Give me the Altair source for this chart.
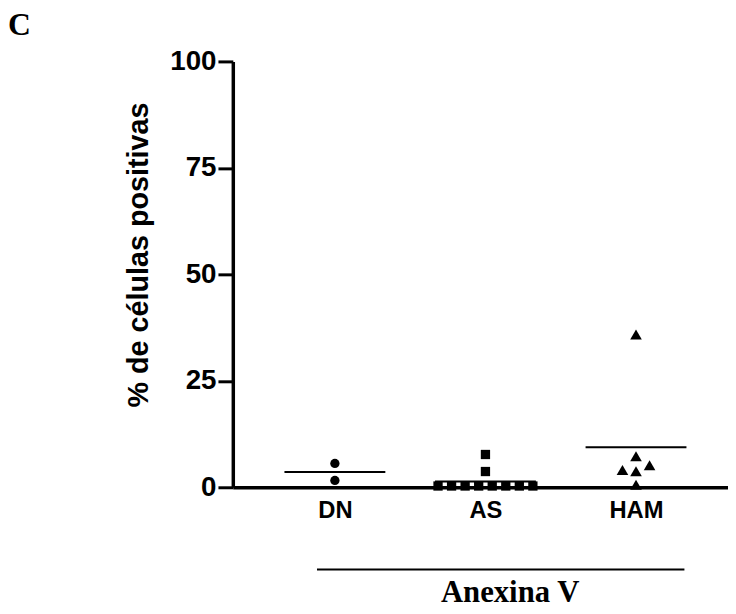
import altair as alt
import pandas as pd
import json

categories = ["DN", "AS", "HAM"]
dn_values = [5.6, 1.6]
as_values = [7.7, 3.7, 0.3, 0.3, 0.3, 0.3, 0.3, 0.3, 0.3, 0.3]
ham_values = [35.8, 7.2, 5.1, 4.0, 3.7, 0.5]
y_ticks = [0, 25, 50, 75, 100]

groups = (["DN"] * len(dn_values) + ["AS"] * len(as_values) + ["HAM"] * len(ham_values))
values = dn_values + as_values + ham_values
df = pd.DataFrame({"group": groups, "value": values})

cats_js = json.dumps(categories)
SANS = "Liberation Sans"
SERIF = "Liberation Serif"
TRIANGLE = "M0,-1.15L1.25,1L-1.25,1Z"

W, H = 500, 430
xscale = alt.Scale(domain=[-0.678, 2.611], nice=False, zero=False)
yscale = alt.Scale(domain=[0, 100], nice=False)

base = alt.Chart(df).transform_calculate(
    idx=f"indexof({cats_js}, datum.group)",
    vbin="floor(datum.value / 3)",
)

points = base.transform_window(
    rank="row_number()", groupby=["group", "vbin"], sort=[alt.SortField("value", order="ascending")]
).transform_joinaggregate(
    n="count()", groupby=["group", "vbin"]
).transform_calculate(
    off="(datum.rank % 2 == 0 ? -1 : 1) * floor(datum.rank / 2) + (datum.n % 2 == 0 ? 0.5 : 0)"
).transform_calculate(
    xpos="datum.idx + datum.off * 0.09"
).mark_point(filled=True, opacity=1, color="black", size=88).encode(
    x=alt.X("xpos:Q", scale=xscale,
            axis=alt.Axis(values=[0, 1, 2], labelExpr=f"{cats_js}[datum.value]",
                          ticks=False, grid=False, title=None,
                          labelFont=SANS, labelFontWeight="bold", labelFontSize=24,
                          labelColor="black", labelPadding=12, labelFlush=False,
                          domainColor="black", domainWidth=3.5)),
    y=alt.Y("value:Q", scale=yscale,
            axis=alt.Axis(values=y_ticks, grid=False,
                          title="% de células positivas",
                          titleFont=SANS, titleFontWeight="bold", titleFontSize=29,
                          titleColor="black", titleX=-95, titleY=195,
                          titleAlign="center", titleBaseline="middle", titleAngle=270,
                          labelFont=SANS, labelFontWeight="bold", labelFontSize=28,
                          labelColor="black", labelPadding=2,
                          tickSize=15, tickWidth=3, tickColor="black",
                          domainColor="black", domainWidth=3.5)),
    shape=alt.Shape("group:N", scale=alt.Scale(domain=categories,
                    range=["circle", "square", TRIANGLE]), legend=None),
)

means = base.transform_aggregate(
    mean_value="mean(value)", groupby=["group", "idx"]
).transform_calculate(
    x1="datum.idx - 0.335", x2="datum.idx + 0.335"
).mark_rule(color="black", strokeWidth=2).encode(
    x=alt.X("x1:Q", scale=xscale),
    x2="x2:Q",
    y=alt.Y("mean_value:Q", scale=yscale),
)

one = pd.DataFrame({"k": [0]})
panel_label = alt.Chart(one).mark_text(
    text="C", font=SERIF, fontWeight="bold", fontSize=32, align="left", baseline="alphabetic", color="black"
).encode(x=alt.value(-227), y=alt.value(-27))

bottom_rule = alt.Chart(one).mark_rule(color="black", strokeWidth=2).encode(
    x=alt.value(85), x2=alt.value(456), y=alt.value(513)
)

bottom_title = alt.Chart(one).mark_text(
    text="Anexina V", font=SERIF, fontWeight="bold", fontSize=31, align="center", baseline="alphabetic", color="black"
).encode(x=alt.value(280), y=alt.value(546))

chart = alt.layer(points, means, panel_label, bottom_rule, bottom_title).properties(
    width=W, height=H,
    background="white",
    autosize=alt.AutoSizeParams(type="none"),
    padding={"left": 227, "top": 51, "right": 0, "bottom": 124},
).configure_view(stroke="transparent").configure_axis(grid=False)

chart.save("out.html", embed_options={"renderer": "svg", "actions": False})
